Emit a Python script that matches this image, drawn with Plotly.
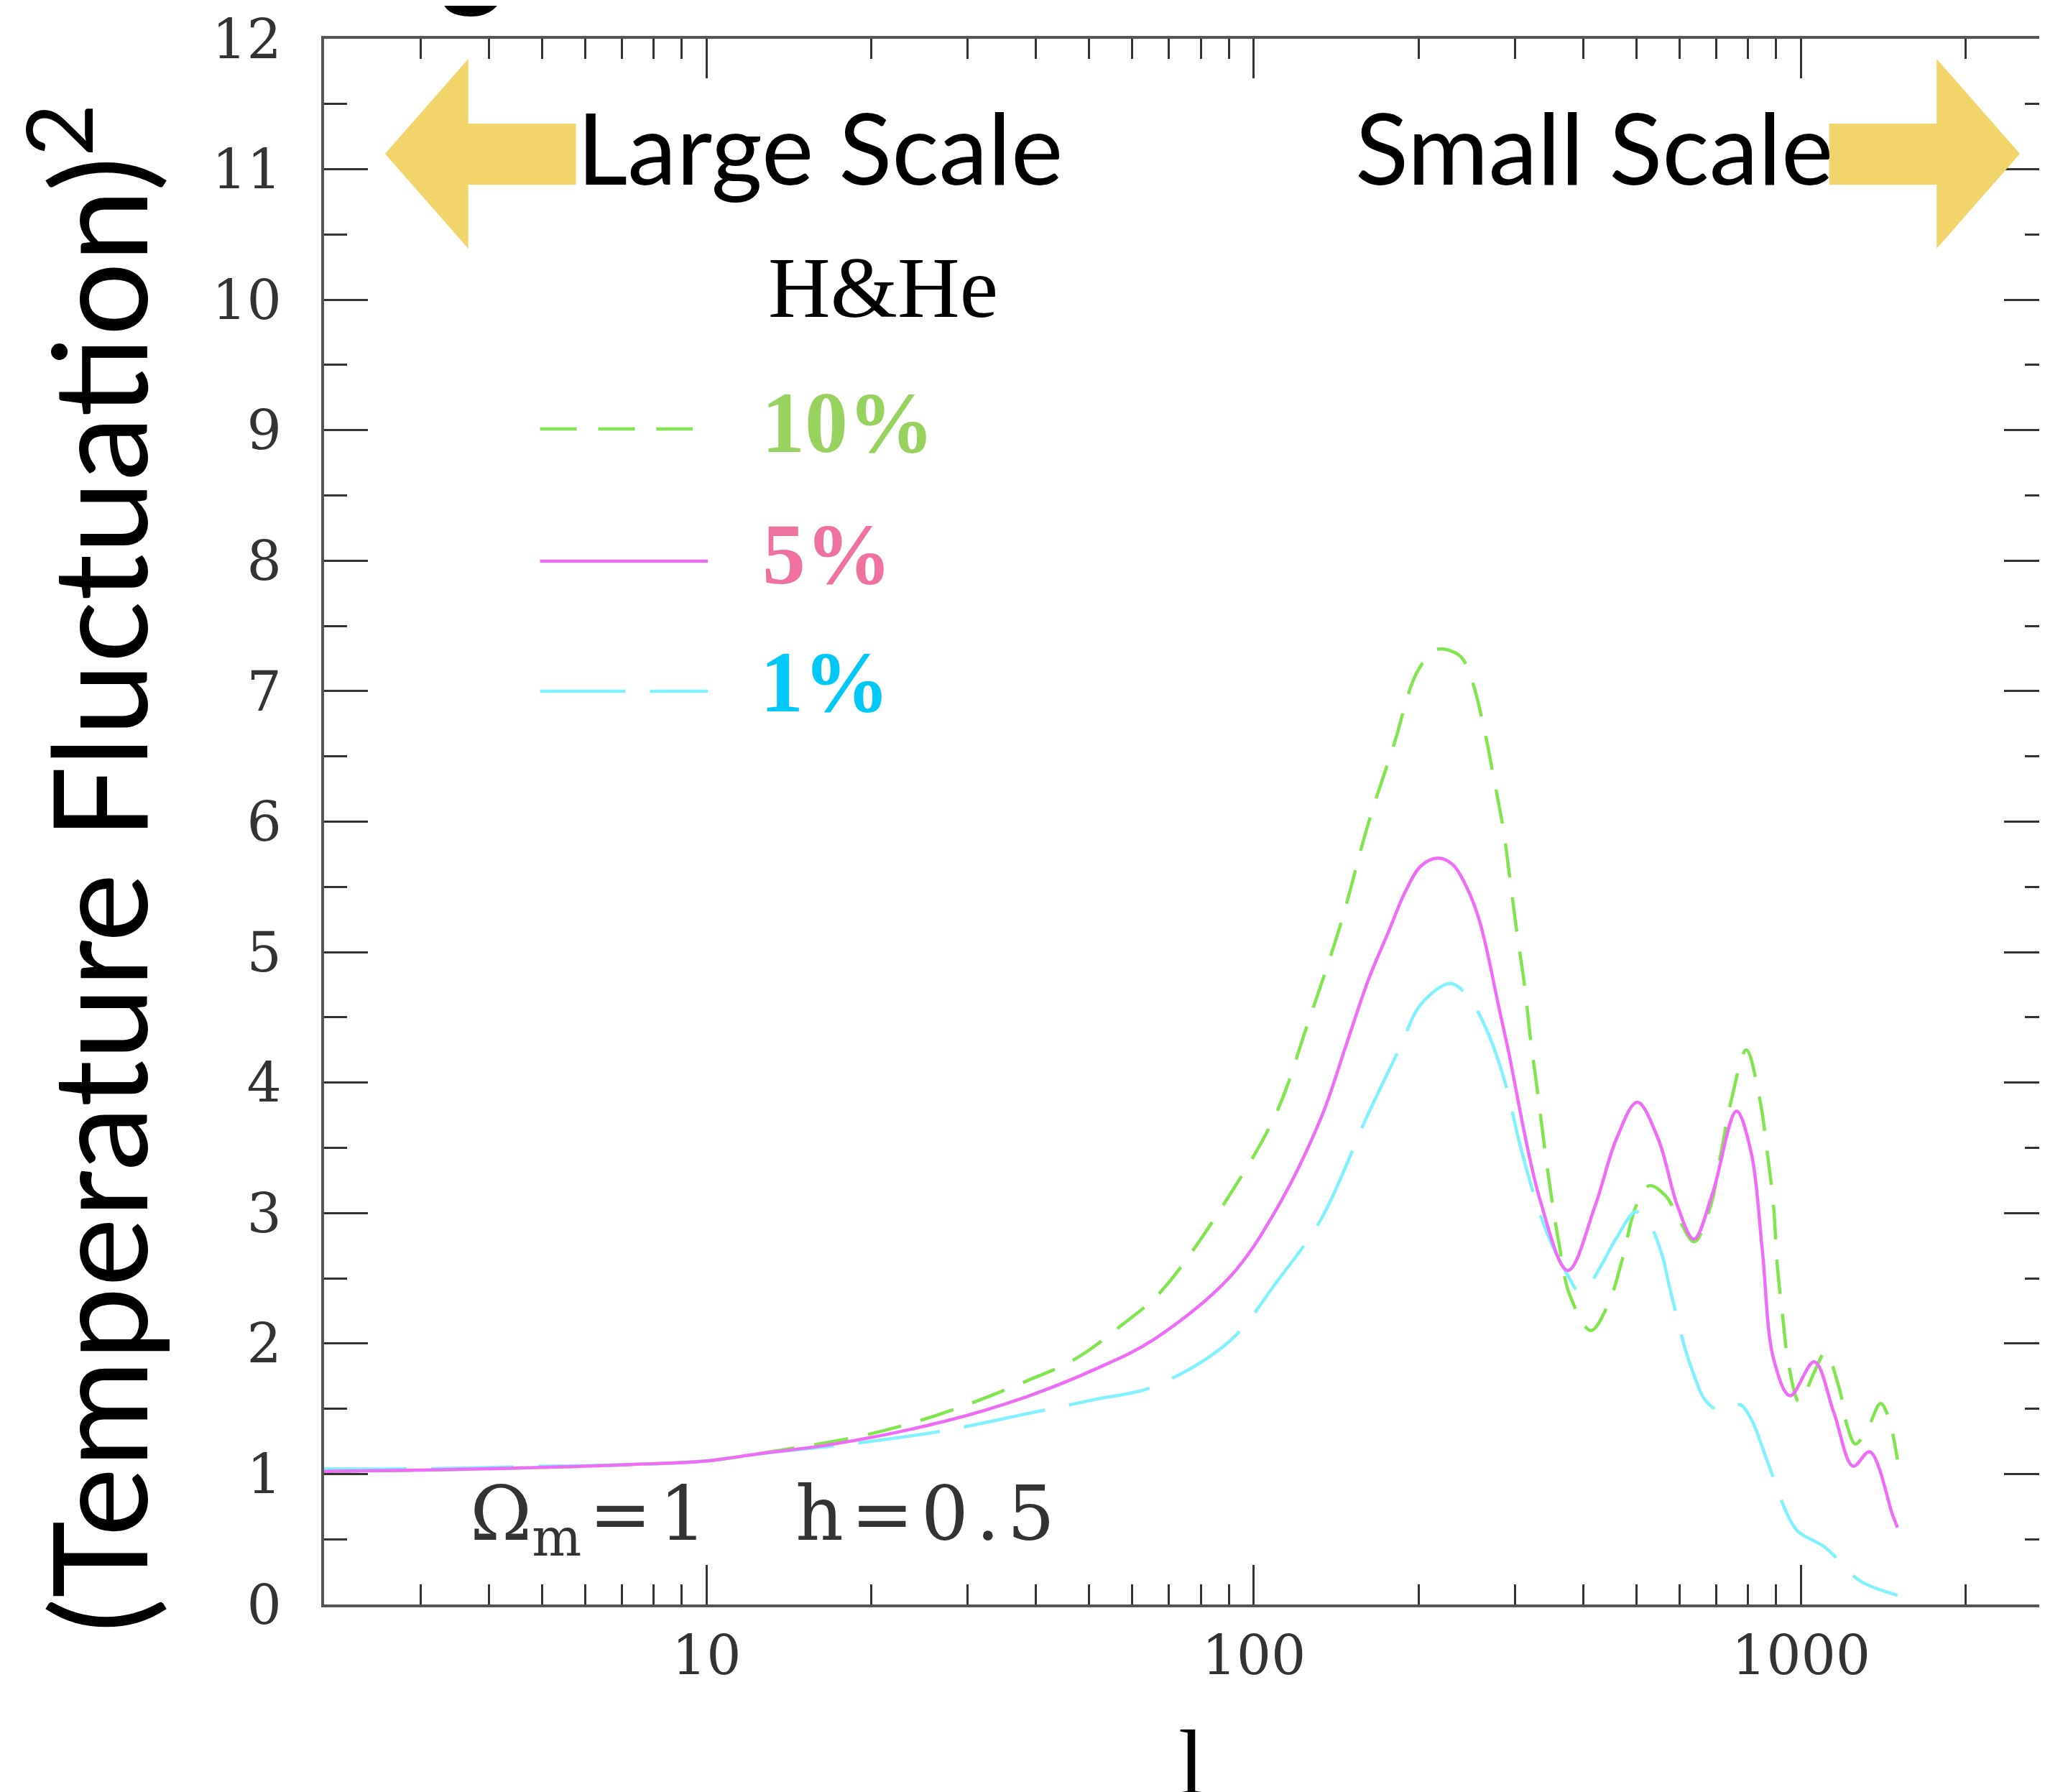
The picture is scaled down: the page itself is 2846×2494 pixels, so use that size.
import math
import plotly.graph_objects as go

# ---------------- data ----------------
l_5pct = [2, 3, 5, 7, 10, 12.2, 17.1, 27, 38.3, 51.1, 65.6, 90.4, 110, 133, 147, 162, 176, 189, 202, 217,
          231, 246, 258, 269, 279, 291, 333, 375, 420, 460, 502, 548, 595, 637, 689, 762, 811, 849, 891,
          955, 1057, 1148, 1245, 1335, 1469, 1500]
v_5pct = [1.02, 1.03, 1.05, 1.07, 1.10, 1.15, 1.23, 1.40, 1.59, 1.80, 2.03, 2.51, 3.03, 3.74, 4.27, 4.79, 5.15, 5.46, 5.66, 5.72,
          5.67, 5.48, 5.25, 4.94, 4.62, 4.27, 3.11, 2.56, 3.05, 3.57, 3.85, 3.57, 3.05, 2.80, 3.15, 3.78, 3.46, 2.73, 1.88,
          1.60, 1.86, 1.47, 1.06, 1.17, 0.69, 0.59]

l_10pct = [2, 3, 5, 7, 10, 12.2, 19.1, 24.1, 30.3, 38.3, 47.1, 57.3, 67.7, 90.4, 110, 125, 144, 162, 180, 199,
           216, 238, 250, 263, 274, 286, 294, 303, 313, 320, 329, 345, 361, 378, 413, 445, 471, 499, 528, 566,
           600, 638, 683, 714, 748, 794, 839, 869, 891, 904, 926, 949, 993, 1057, 1107, 1172, 1216, 1257, 1327, 1397,
           1443, 1500]
v_10pct = [1.02, 1.03, 1.05, 1.07, 1.10, 1.15, 1.29, 1.40, 1.54, 1.71, 1.88, 2.14, 2.40, 3.14, 3.77, 4.43, 5.21, 5.99, 6.58, 7.15,
           7.32, 7.27, 7.09, 6.73, 6.35, 5.93, 5.55, 5.13, 4.72, 4.35, 3.97, 3.30, 2.77, 2.37, 2.10, 2.31, 2.64, 3.05, 3.21, 3.13,
           2.94, 2.78, 3.05, 3.46, 3.89, 4.25, 3.89, 3.44, 3.05, 2.62, 2.20, 1.84, 1.55, 1.78, 1.93, 1.67, 1.36, 1.23, 1.36, 1.54,
           1.44, 1.11]

l_1pct = [2, 3, 5, 7, 10, 12.2, 19.1, 27, 38.3, 51.1, 65.6, 90.4, 110, 133, 161, 185, 202, 229, 248, 266,
          287, 307, 333, 353, 375, 392, 405, 429, 460, 499, 528, 558, 573, 615, 637, 667, 706, 748, 775, 811,
          869, 944, 987, 1104, 1283, 1475, 1500]
v_1pct = [1.04, 1.04, 1.06, 1.07, 1.10, 1.15, 1.24, 1.33, 1.46, 1.57, 1.67, 2.02, 2.47, 2.96, 3.74, 4.27, 4.60, 4.76, 4.64, 4.41,
          4.02, 3.51, 3.00, 2.73, 2.52, 2.40, 2.42, 2.58, 2.81, 3.01, 2.92, 2.67, 2.46, 1.95, 1.76, 1.57, 1.49, 1.52, 1.53, 1.42,
          1.09, 0.69, 0.56, 0.44, 0.18, 0.08, 0.07]

x_major_ticks = [10, 100, 1000]
x_major_text = ["10", "100", "1000"]
x_minor_ticks = [2, 3, 4, 5, 6, 7, 8, 9, 20, 30, 40, 50, 60, 70, 80, 90,
                 200, 300, 400, 500, 600, 700, 800, 900, 2000]
y_ticks = list(range(0, 13))

legend_title = "H&He"
series_labels = ["10%", "5%", "1%"]

# ---------------- styling ----------------
W, H = 2846, 2494
ML, MT, MR = 443, 46, 0
PB = 2225  # plot bottom pixel
MB = H - PB
PW = W - ML - MR
PH = PB - MT

def px(x):
    return (x - ML) / PW

def py(y):
    return (PB - y) / PH

GREEN = "#80E64D"
MAGENTA = "#EE6CF7"
CYAN = "#80F2FF"
GOLD = "#F1D46A"
LW = 4.5

fig = go.Figure()
fig.add_trace(go.Scatter(x=l_10pct, y=v_10pct, mode="lines", line=dict(color=GREEN, width=LW, dash="48px,28px", shape="spline", smoothing=1.0), showlegend=False))
fig.add_trace(go.Scatter(x=l_1pct, y=v_1pct, mode="lines", line=dict(color=CYAN, width=LW, dash="115px,34px", shape="spline", smoothing=1.0), showlegend=False))
fig.add_trace(go.Scatter(x=l_5pct, y=v_5pct, mode="lines", line=dict(color=MAGENTA, width=LW, shape="spline", smoothing=1.0), showlegend=False))

tickfont = dict(family="DejaVu Serif", size=76, color="#333")

fig.update_xaxes(type="log", range=[math.log10(2), math.log10(2825)],
                 showline=True, linecolor="#555", linewidth=4, mirror="ticks",
                 ticks="inside", ticklen=55, tickwidth=3, tickcolor="#333",
                 tickvals=x_major_ticks, ticktext=x_major_text,
                 minor=dict(tickvals=x_minor_ticks, ticks="inside", ticklen=28, tickwidth=3, tickcolor="#333", showgrid=False),
                 showgrid=False, zeroline=False, tickfont=tickfont, ticklabelstandoff=2)
fig.update_yaxes(range=[0, 12], showline=True, linecolor="#555", linewidth=4, mirror="ticks",
                 ticks="inside", ticklen=61, tickwidth=3, tickcolor="#333",
                 tickvals=y_ticks, ticktext=[str(v) for v in y_ticks],
                 minor=dict(dtick=0.5, tick0=0, ticks="inside", ticklen=32, tickwidth=3, tickcolor="#333", showgrid=False),
                 showgrid=False, zeroline=False, tickfont=tickfont, ticklabelstandoff=40)

shapes = []
def poly(points):
    d = "M " + " L ".join(f"{px(x):.5f},{py(y):.5f}" for x, y in points) + " Z"
    return dict(type="path", xref="paper", yref="paper", path=d, fillcolor=GOLD, line=dict(width=0), layer="above")

shapes.append(poly([(528, 206), (644, 74), (644, 164), (794, 164), (794, 249), (644, 249), (644, 338)]))
shapes.append(poly([(2541, 164), (2691, 164), (2691, 74), (2807, 206), (2691, 338), (2691, 249), (2541, 249)]))

def hline(x0, x1, y, color, dash):
    return dict(type="line", xref="paper", yref="paper", x0=px(x0), x1=px(x1), y0=py(y), y1=py(y),
                line=dict(color=color, width=LW, dash=dash))

shapes.append(hline(744, 957, 589, GREEN, "51px,30px"))
shapes.append(hline(744, 978, 773, MAGENTA, "solid"))
shapes.append(hline(744, 978, 954, CYAN, "119px,34px"))
fig.update_layout(shapes=shapes)

ann = []
def text(t, x, y, size, family, color="black", xanchor="left", yanchor="middle", angle=0):
    ann.append(dict(text=t, x=px(x), y=py(y), xref="paper", yref="paper", showarrow=False,
                    xanchor=xanchor, yanchor=yanchor, textangle=angle,
                    font=dict(family=family, size=size, color=color)))

HS = "\u200a"  # hair space, to widen the parameter text a little
text("Large Scale", 794, 196, 137, "Lato")
text("Small Scale", 1878, 196, 137, "Lato")
text(legend_title, 1060, 393, 120, "Liberation Serif")
text("<b>" + series_labels[0] + "</b>", 1051, 580, 120, "Liberation Serif", "#97D25F")
text("<b>" + series_labels[1] + "</b>", 1052, 763, 120, "Liberation Serif", "#EE719F")
text("<b>" + series_labels[2] + "</b>", 1049, 941, 120, "Liberation Serif", "#00C8F7")
text("Ω<sub>m</sub>" + HS + "=" + HS + "1", 644, 2036, 104, "DejaVu Serif", "#333", yanchor="top")
text("h" + HS + "=" + HS + "0" + HS + "." + HS + "5", 1098, 2036, 104, "DejaVu Serif", "#333", yanchor="top")
text("l", 1652, 2445, 130, "Liberation Serif", "black", xanchor="center")
text("(Temperature Fluctuation)<sup>2</sup>", 115, 1200, 182, "Lato", "black", xanchor="center", angle=-90)
text("<b>g</b>", 649, -82, 170, "Lato", "black", xanchor="center")

fig.update_layout(annotations=ann, width=W, height=H,
                  margin=dict(l=ML, r=MR, t=MT, b=MB, pad=0),
                  plot_bgcolor="white", paper_bgcolor="white", showlegend=False)

fig.write_html("out.html")
